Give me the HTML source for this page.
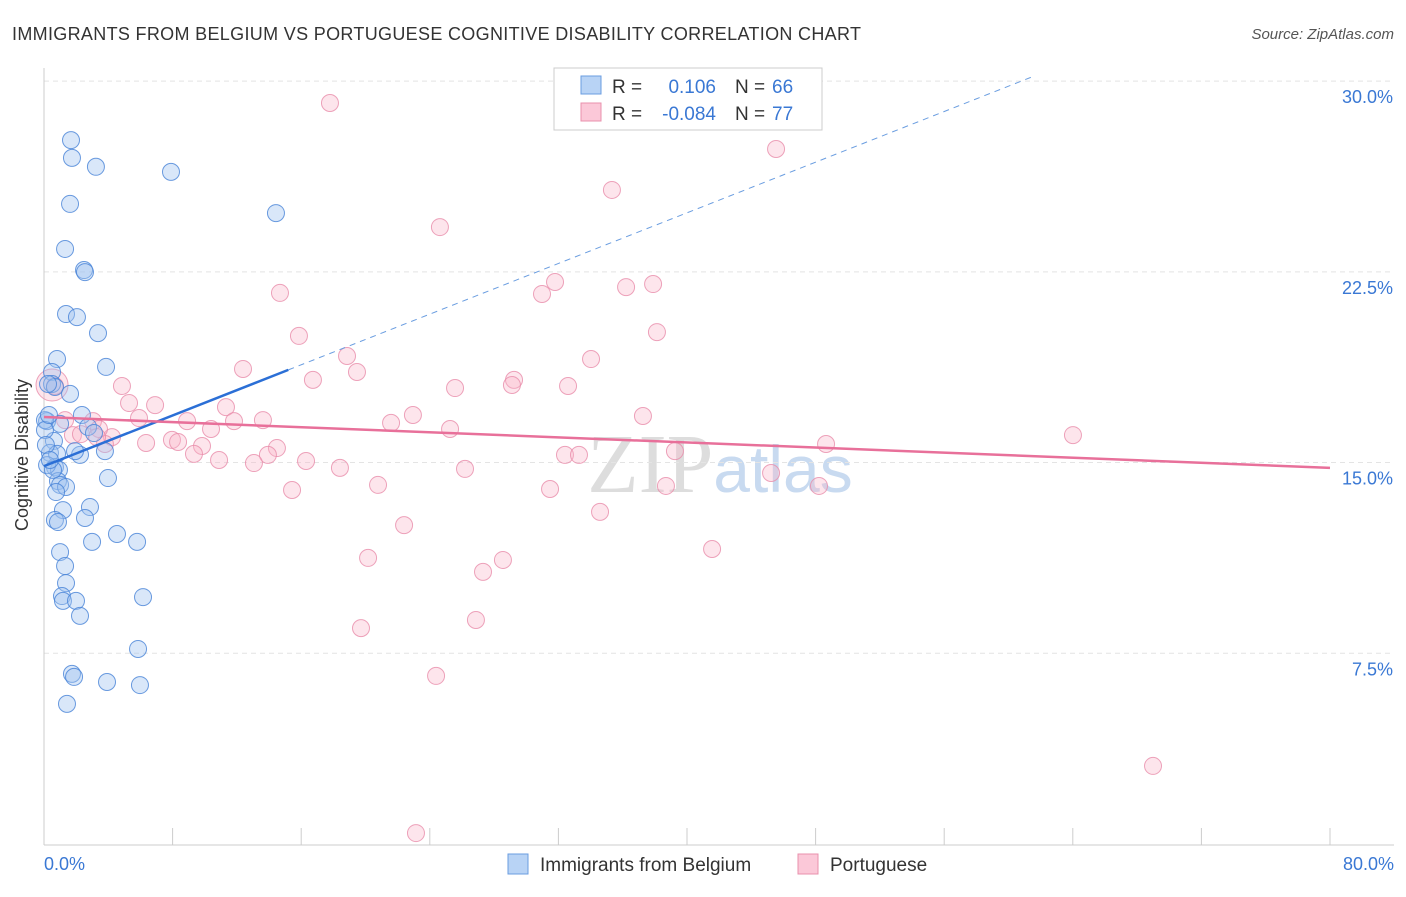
<!DOCTYPE html>
<html><head><meta charset="utf-8"><style>
body{margin:0;background:#fff;font-family:"Liberation Sans",sans-serif;}
</style></head><body>
<svg width="1406" height="892" xmlns="http://www.w3.org/2000/svg">
<text x="12" y="40" font-size="18" fill="#333" textLength="849">IMMIGRANTS FROM BELGIUM VS PORTUGUESE COGNITIVE DISABILITY CORRELATION CHART</text>
<text x="1394" y="39" font-size="15" fill="#555" font-style="italic" text-anchor="end">Source: ZipAtlas.com</text>
<text x="28" y="455" font-size="18" fill="#333" text-anchor="middle" transform="rotate(-90 28 455)">Cognitive Disability</text>
<text x="720" y="492" font-size="84" fill="#ddd" text-anchor="middle" font-family="Liberation Serif,serif">ZIP<tspan fill="#c8daf0" font-family="Liberation Sans,sans-serif" font-size="66">atlas</tspan></text>
<g id="grid"></g><g id="axes"></g><g id="pts"></g><g id="lines"></g>
<g>
<rect x="554" y="68" width="268" height="62" fill="#fff" stroke="#ccc"/>
<rect x="581" y="76" width="20" height="18" fill="#b8d3f5" stroke="#6a9de0"/>
<rect x="581" y="103" width="20" height="18" fill="#fbc8d8" stroke="#e890ac"/>
<text x="612" y="93" font-size="19" fill="#333">R = </text><text x="716" y="93" font-size="19" fill="#3a78d4" text-anchor="end">0.106</text>
<text x="735" y="93" font-size="19" fill="#333">N = </text><text x="772" y="93" font-size="19" fill="#3a78d4">66</text>
<text x="612" y="120" font-size="19" fill="#333">R = </text><text x="716" y="120" font-size="19" fill="#3a78d4" text-anchor="end">-0.084</text>
<text x="735" y="120" font-size="19" fill="#333">N = </text><text x="772" y="120" font-size="19" fill="#3a78d4">77</text>
</g>
<g>
<rect x="508" y="854" width="20" height="20" fill="#b8d3f5" stroke="#6a9de0"/>
<text x="540" y="871" font-size="19" fill="#333">Immigrants from Belgium</text>
<rect x="798" y="854" width="20" height="20" fill="#fbc8d8" stroke="#e890ac"/>
<text x="830" y="871" font-size="19" fill="#333">Portuguese</text>
</g>
</svg>
<script>
const yTicks=[7.5,15,22.5,30];
const yTickLabels=["7.5%","15.0%","22.5%","30.0%"];
const blueX=[1.68,1.74,3.23,7.90,1.62,14.43,1.31,2.49,2.55,1.37,2.05,3.36,0.81,3.86,0.50,0.50,0.68,1.62,2.36,0.19,1.00,2.74,3.11,0.62,3.79,0.37,0.81,2.24,1.93,0.68,0.93,3.98,0.87,1.00,1.37,0.75,2.86,1.18,0.68,0.87,2.55,4.54,5.79,2.99,1.00,1.31,1.37,1.12,1.18,1.99,6.16,2.24,5.85,1.74,1.87,3.92,5.97,1.43,0.06,0.06,0.19,0.25,0.56,0.12,0.37,0.31];
const blueY=[27.68,26.98,26.63,26.43,25.17,24.81,23.40,22.57,22.49,20.84,20.72,20.09,19.07,18.76,18.56,18.09,17.97,17.70,16.87,16.63,16.52,16.40,16.16,15.85,15.45,15.38,15.34,15.30,15.45,14.82,14.71,14.39,14.27,14.12,14.04,13.84,13.25,13.13,12.74,12.66,12.82,12.19,11.88,11.88,11.48,10.93,10.26,9.75,9.56,9.56,9.71,8.97,7.67,6.69,6.57,6.37,6.25,5.51,16.67,16.28,14.90,18.09,14.71,15.69,15.10,16.87];
const pinkX=[17.79,45.54,35.33,24.63,31.79,30.98,14.68,36.21,37.89,38.13,15.86,18.85,34.03,12.38,19.47,16.73,4.85,29.24,29.11,25.57,32.60,0.50,5.29,6.91,11.32,22.95,37.26,5.91,8.90,11.82,13.62,1.31,3.05,21.59,25.26,10.39,1.80,4.23,7.96,2.30,8.34,9.83,6.35,3.79,14.49,9.33,13.93,32.41,33.28,39.25,10.89,16.30,13.06,48.65,64.01,18.41,26.19,45.23,20.78,38.69,31.48,48.21,15.43,34.59,22.40,41.56,20.16,28.55,27.31,19.72,26.87,24.39,68.99,23.14,0.68,3.42,3.30];
const pinkY=[29.14,27.33,25.72,24.26,22.10,21.63,21.67,21.90,22.02,20.13,19.98,19.19,19.07,18.68,18.56,18.25,18.01,18.25,18.05,17.93,18.01,18.05,17.34,17.26,17.18,16.87,16.83,16.75,16.63,16.63,16.67,16.67,16.63,16.56,16.32,16.32,16.08,16.00,15.89,16.12,15.81,15.65,15.77,15.73,15.57,15.34,15.30,15.30,15.30,15.45,15.10,15.06,14.98,15.73,16.08,14.79,14.75,14.59,14.12,14.08,13.96,14.08,13.92,13.06,12.54,11.60,11.25,11.17,10.70,8.49,8.81,6.61,3.07,0.43,18.01,16.32,16.00];
const blueTrend=[14.86,0.249]; // intercept, slope
const pinkTrend=[16.79,-0.025];
const blueSolidEnd=15.2;
const NS="http://www.w3.org/2000/svg";
const X=v=>44+v*16.075, Y=v=>844-v*25.43;
function mk(t,a,p){const e=document.createElementNS(NS,t);for(const k in a)e.setAttribute(k,a[k]);p.appendChild(e);return e;}
const grid=document.getElementById('grid'),axes=document.getElementById('axes'),pts=document.getElementById('pts'),lines=document.getElementById('lines');
yTicks.forEach((t,i)=>{
 const g=mk('line',{x1:44,x2:1394,y1:Y(t),y2:Y(t),stroke:'#e4e4e4','stroke-dasharray':'5,4'},grid);
 
 
 const l=mk('text',{x:1393,y:Y(t)+22,'font-size':18,fill:'#3a78d4','text-anchor':'end'},axes);
 l.textContent=yTickLabels[i];
 
 
});
const ax=mk('line',{x1:44,x2:44,y1:68,y2:845,stroke:'#ccc'},axes);


const bx=mk('line',{x1:44,x2:1394,y1:845,y2:845,stroke:'#ccc'},axes);


for(let i=1;i<=10;i++){const t=mk('line',{x1:X(i*8),x2:X(i*8),y1:828,y2:845,stroke:'#ccc'},axes);
 
 }
[[0,'0.0%','start',44],[80,'80.0%','end',1394]].forEach(d=>{const t=mk('text',{x:d[3],y:870,'font-size':18,fill:'#3a78d4','text-anchor':d[2]},axes);t.textContent=d[1];
 
 });
pinkX.forEach((v,i)=>{const c=mk('circle',{cx:X(v),cy:Y(pinkY[i]),r:i==21?16:8.5,fill:'rgba(248,180,200,0.35)',stroke:'rgba(232,140,170,0.8)','stroke-width':1},pts);
 
 });
blueX.forEach((v,i)=>{const c=mk('circle',{cx:X(v),cy:Y(blueY[i]),r:8.5,fill:'rgba(160,195,240,0.4)',stroke:'rgba(70,130,215,0.8)','stroke-width':1},pts);
 
 });
const bf=x=>blueTrend[0]+blueTrend[1]*x, pf=x=>pinkTrend[0]+pinkTrend[1]*x;
const xmax=blueSolidEnd;
let l1=mk('line',{x1:X(0),y1:Y(bf(0)),x2:X(xmax),y2:Y(bf(xmax)),stroke:'#2b6fd6','stroke-width':2.5},lines);


const xe=(30.2-blueTrend[0])/blueTrend[1];
let l2=mk('line',{x1:X(xmax),y1:Y(bf(xmax)),x2:X(xe),y2:Y(bf(xe)),stroke:'#6a9de0','stroke-width':1,'stroke-dasharray':'6,5'},lines);


let l3=mk('line',{x1:X(0),y1:Y(pf(0)),x2:X(80),y2:Y(pf(80)),stroke:'#e8709a','stroke-width':2.5},lines);


</script>
</body></html>
